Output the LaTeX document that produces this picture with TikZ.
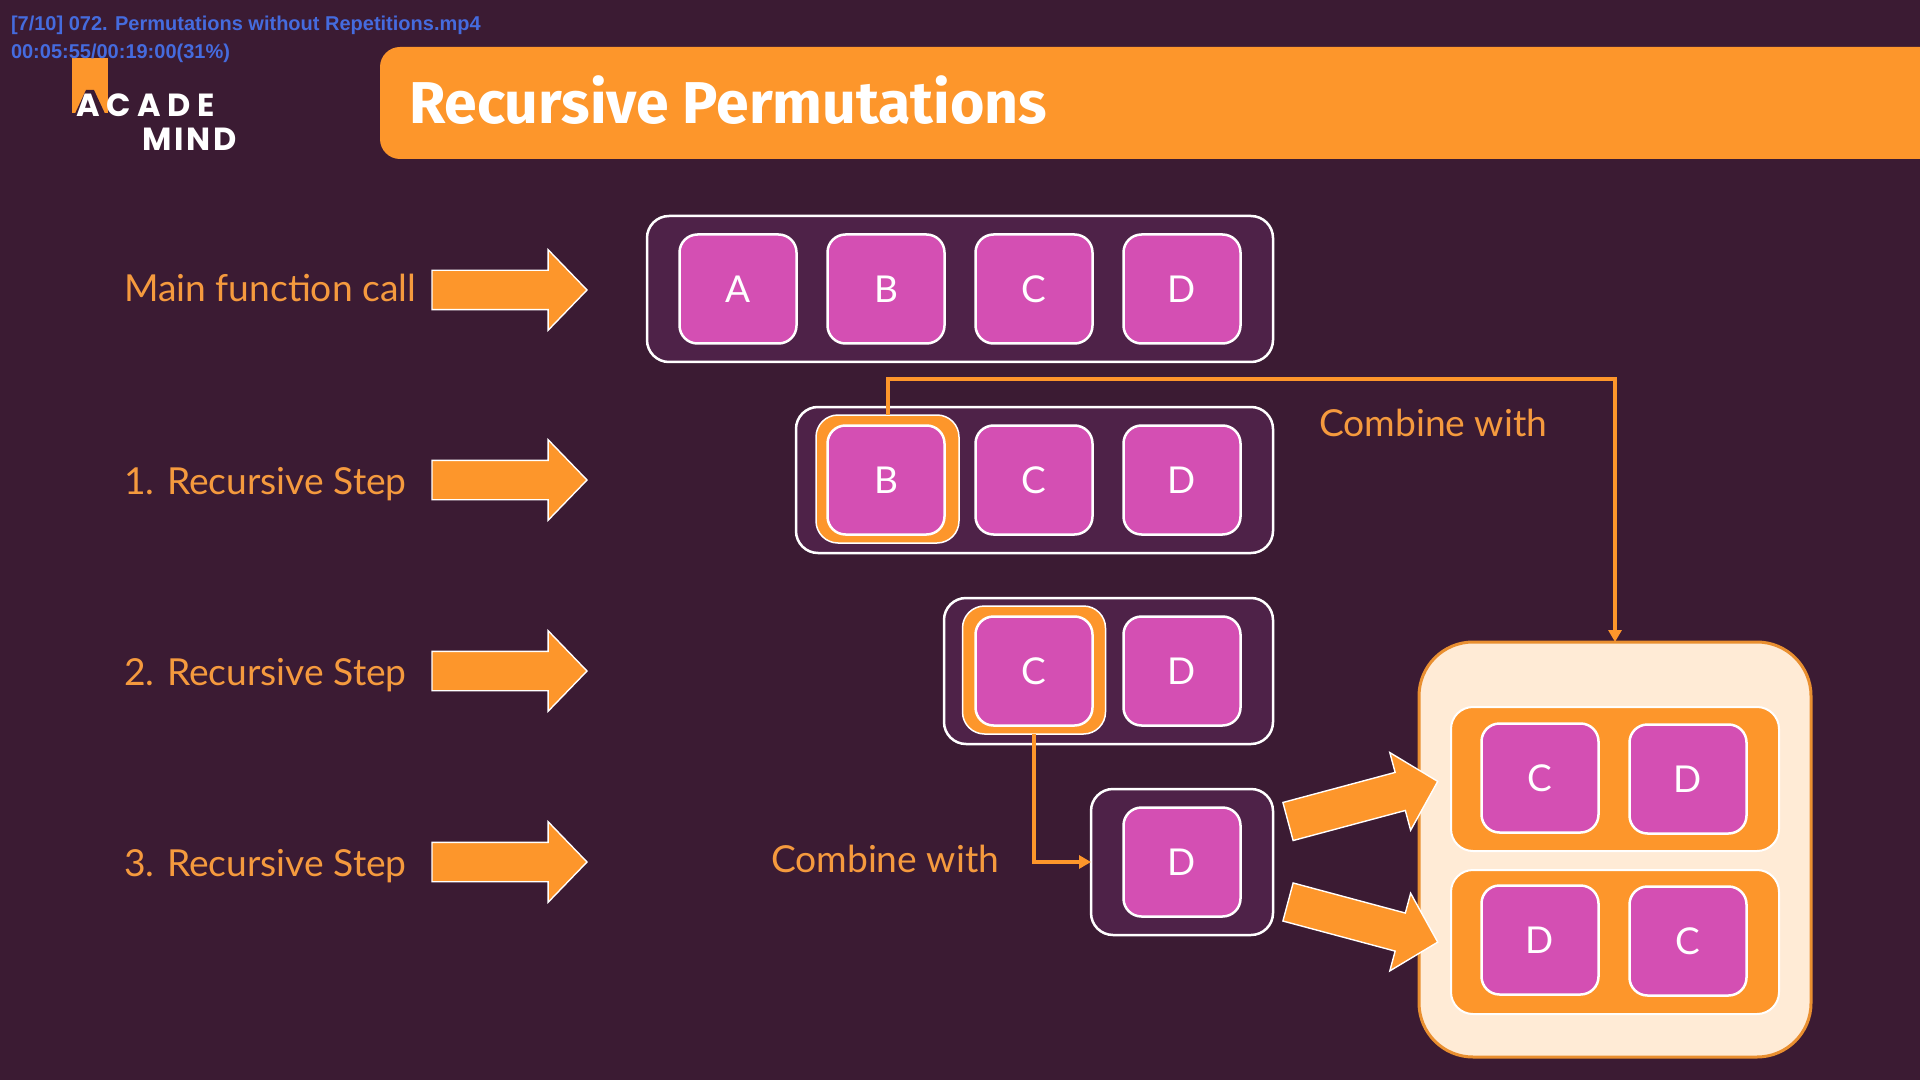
\documentclass[tikz,border=0pt]{standalone}
\usepackage{fontspec}
\usetikzlibrary{arrows.meta,shapes.arrows}
\setmainfont{Lato}
\newfontfamily\titlefont{Fira Sans}
\newfontfamily\logofont[LetterSpace=9]{Poppins}
\newfontfamily\logofontb[LetterSpace=21]{Poppins}
\newfontfamily\osdfont{Liberation Sans}
\definecolor{bgc}{HTML}{3B1B33}
\definecolor{boxc}{HTML}{4E2248}
\definecolor{magc}{HTML}{D44FB3}
\definecolor{orc}{HTML}{FD962B}
\definecolor{txtor}{HTML}{F59A3E}
\definecolor{creamc}{HTML}{FFEBD6}
\definecolor{edgec}{HTML}{E98F30}
\definecolor{osdc}{HTML}{456BDE}
\tikzset{
  every node/.style={inner sep=0pt,outer sep=0pt},
  sq/.style={rectangle,rounded corners=9pt,minimum width=58.5pt,minimum height=54.5pt,fill=magc,draw=white,line width=1.25pt,text=white,font=\fontsize{18.5}{20}\selectfont},
  rowbox/.style={rectangle,rounded corners=11pt,minimum height=73pt,fill=boxc,draw=white,line width=1.25pt},
  hilite/.style={rectangle,rounded corners=11pt,minimum width=71.5pt,minimum height=64pt,fill=orc,draw=white,line width=0.75pt},
  panel/.style={rectangle,rounded corners=11pt,minimum width=164pt,minimum height=72pt,fill=orc,draw=white,line width=1pt},
  bigarrow/.style={single arrow,anchor=tail,inner ysep=9.5pt,inner xsep=0pt,single arrow head extend=10.25pt,single arrow tip angle=92,single arrow head indent=0pt,minimum height=77.5pt,fill=orc,draw=white,line width=0.7pt},
  lbl/.style={anchor=base west,text=txtor,font=\fontsize{18.6}{20}\selectfont},
  link/.style={draw=orc,line width=2pt,-{Triangle[length=6pt,width=6.5pt]}},
  osd/.style={anchor=base west,text=osdc,font=\osdfont\bfseries\fontsize{10}{12}\selectfont},
  logo/.style={anchor=base west,text=white,font=\logofont\bfseries\fontsize{16}{18}\selectfont},
  logob/.style={anchor=base west,text=white,font=\logofontb\bfseries\fontsize{16}{18}\selectfont}
}
\begin{document}
\begin{tikzpicture}[x=0.5pt,y=-0.5pt]
\useasboundingbox (0,0) rectangle (1920,1080);
\fill[bgc] (0,0) rectangle (1920,1080);
% header
\fill[orc] (1920,47) -- (1000,47) [rounded corners=10pt] -- (380,47) -- (380,159) -- (1000,159) [sharp corners] -- (1920,159) -- cycle;
\node[anchor=base west,text=white,font=\titlefont\bfseries\fontsize{29.5}{32}\selectfont] (title) at (409,124) {Recursive Permutations};
% logo
\fill[orc] (72,58) -- (108,58) -- (108,113) -- (72,113) -- cycle;
\fill[bgc] (86,90) -- (94,90) -- (107,118) -- (73,118) -- cycle;
\node[logob] (logoa) at (76,117) {ACADE};
\node[logo] (logob) at (142,151) {MIND};
% video overlay
\node[osd] (osda) at (11,31) {[7/10] 072. Permutations without Repetitions.mp4};
\node[osd] (osdb) at (11,59) {00:05:55/00:19:00(31\%)};
% row containers
\node[rowbox,minimum width=313pt] (r0) at (960,289) {};
\node[rowbox,minimum width=238.5pt] (r1) at (1034.5,480) {};
\node[rowbox,minimum width=164.5pt] (r2) at (1108.5,671) {};
\node[rowbox,minimum width=91pt] (r3) at (1182,862) {};
% highlights
\node[hilite] (hB) at (887.5,479) {};
\node[hilite] (hC) at (1034,670) {};
% squares
\node[sq] (a0) at (738,289) {A};
\node[sq] (b0) at (886,289) {B};
\node[sq] (c0) at (1034,289) {C};
\node[sq] (d0) at (1182,289) {D};
\node[sq] (b1) at (886,480) {B};
\node[sq] (c1) at (1034,480) {C};
\node[sq] (d1) at (1182,480) {D};
\node[sq] (c2) at (1034,671) {C};
\node[sq] (d2) at (1182,671) {D};
\node[sq] (d3) at (1182,862) {D};
% labels
\node[lbl] (l0) at (124,302) {Main function call};
\node[lbl] (l1) at (124,494) {1. Recursive Step};
\node[lbl] (l2) at (124,685) {2. Recursive Step};
\node[lbl] (l3) at (124,876) {3. Recursive Step};
\node[lbl] (cw1) at (1319,436) {Combine with};
\node[lbl] (cw2) at (771,872) {Combine with};
% result block
\node[rectangle,rounded corners=27pt,minimum width=196pt,minimum height=207.5pt,fill=creamc,draw=edgec,line width=1.5pt] (big) at (1615,849.5) {};
\node[panel] (p1) at (1615,779) {};
\node[panel] (p2) at (1615,942) {};
\node[sq] (s1) at (1540,778) {C};
\node[sq] (s2) at (1688,779) {D};
\node[sq] (s3) at (1540,940) {D};
\node[sq] (s4) at (1688,941) {C};
% connectors
\draw[link] (hB.north) -- ++(0,-36) -| (big.north);
\draw[link] (hC.south) |- (r3.west);
% block arrows
\node[bigarrow] (ar0) at (432,290) {};
\node[bigarrow] (ar1) at (432,480) {};
\node[bigarrow] (ar2) at (432,671) {};
\node[bigarrow] (ar3) at (432,862) {};
\node[bigarrow,rotate=15] (ar4) at (1288,821.5) {};
\node[bigarrow,rotate=-15] (ar5) at (1288,902) {};
\end{tikzpicture}
\end{document}
